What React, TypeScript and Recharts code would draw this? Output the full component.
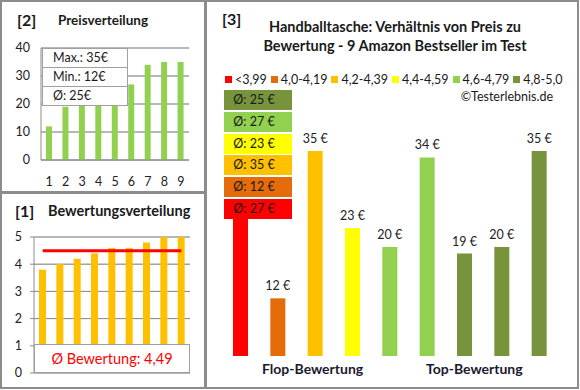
import React from "react";
import { Bar, BarChart, CartesianGrid, Cell, LabelList, ReferenceLine, XAxis, YAxis } from "recharts";

const FONT = "Lato, 'Open Sans', sans-serif";

// [2] Preisverteilung (sorted prices)
const rankLabels = ["1", "2", "3", "4", "5", "6", "7", "8", "9"];
const prices = [12, 19, 20, 20, 20, 27, 34, 35, 35];
const priceTicks = [0, 10, 20, 30, 40];
const priceMinor = Array.from({ length: 21 }, (_, i) => i * 2);
const priceStats = ["Max.: 35€", "Min.: 12€", "Ø: 25€"];

// [1] Bewertungsverteilung (sorted ratings)
const ratings = [3.8, 4.0, 4.2, 4.4, 4.6, 4.6, 4.8, 5.0, 5.0];
const ratingTicks = [0, 1, 2, 3, 4, 5];
const ratingMinor = Array.from({ length: 21 }, (_, i) => i * 0.25);
const ratingAvg = 4.49;

// [3] Preis vs. Bewertung
const productPrices = [27, 12, 35, 23, 20, 34, 19, 20, 35];
const productClass = [0, 1, 2, 3, 4, 4, 5, 5, 5];
const classLabels = ["<3,99", "4,0-4,19", "4,2-4,39", "4,4-4,59", "4,6-4,79", "4,8-5,0"];
const classColors = ["#FF0000", "#E46C0A", "#FFC000", "#FFFF00", "#92D050", "#77933C"];
const classAvg = [27, 12, 35, 23, 27, 25];

const priceData = rankLabels.map((n, i) => ({ n, price: prices[i] }));
const ratingData = rankLabels.map((n, i) => ({ n, rating: ratings[i] }));
const productData = productPrices.map((p, i) => ({ id: String(i + 1), price: p, cls: productClass[i] }));

const tickStyle = { fontSize: 12.5, fill: "#222", fontFamily: FONT };
const border = "2px solid #8c8c8c";

// price label above each bar; the first one sits under the Ø boxes in the original
const PriceLabel = (props: any) => {
  const { x, y, width, value, index } = props;
  if (index === 0) return null;
  return (
    <text x={x + width / 2} y={y - 8} textAnchor="middle" fontSize={12.5} fill="#222" fontFamily={FONT}>
      {`${value} €`}
    </text>
  );
};

export default function App() {
  return (
    <div
      style={{
        position: "absolute",
        left: 0,
        top: 0,
        width: 580,
        height: 390,
        background: "#fff",
        fontFamily: FONT,
        color: "#1a1a1a",
        overflow: "hidden",
      }}
    >
      {/* panel frames */}
      <div style={{ position: "absolute", left: 0, top: 0, width: 207, height: 194, border, boxSizing: "border-box" }} />
      <div style={{ position: "absolute", left: 0, top: 191, width: 207, height: 198, border, boxSizing: "border-box" }} />
      <div style={{ position: "absolute", left: 204, top: 0, width: 375, height: 389, border, boxSizing: "border-box" }} />

      {/* [2] Preisverteilung */}
      <div style={{ position: "absolute", left: 0, top: 0 }}>
        <BarChart width={205} height={192} data={priceData} margin={{ top: 48, right: 16, bottom: 0, left: 0 }}>
          <CartesianGrid vertical={false} horizontalValues={priceMinor} stroke="#c8c8c8" />
          <CartesianGrid vertical={false} horizontalValues={priceTicks} stroke="#8c8c8c" />
          <XAxis
            dataKey="n"
            interval={0}
            height={32}
            tickLine={false}
            tickSize={0}
            tickMargin={17}
            axisLine={{ stroke: "#8c8c8c" }}
            tick={tickStyle}
          />
          <YAxis
            domain={[0, 40]}
            ticks={priceTicks}
            width={41}
            tickLine={false}
            tickSize={0}
            tickMargin={11}
            axisLine={{ stroke: "#8c8c8c" }}
            tick={tickStyle}
          />
          <Bar dataKey="price" fill="#92D050" barSize={6} isAnimationActive={false} />
        </BarChart>
      </div>
      <div style={{ position: "absolute", left: 17, top: 10, fontSize: 16, fontWeight: 700 }}>[2]</div>
      <div style={{ position: "absolute", left: 58, top: 12, fontSize: 13.5, fontWeight: 700 }}>Preisverteilung</div>
      <div
        style={{
          position: "absolute",
          left: 42,
          top: 48,
          width: 84,
          background: "#fff",
          border: "1px solid #a0a0a0",
          fontSize: 12.5,
        }}
      >
        {priceStats.map((s, i) => (
          <div
            key={s}
            style={{
              height: 18,
              lineHeight: "18px",
              paddingLeft: 10,
              borderTop: i ? "1px solid #a0a0a0" : "none",
            }}
          >
            {s}
          </div>
        ))}
      </div>

      {/* [1] Bewertungsverteilung */}
      <div style={{ position: "absolute", left: 0, top: 192 }}>
        <BarChart width={205} height={196} data={ratingData} margin={{ top: 45, right: 15, bottom: 15, left: 0 }}>
          <CartesianGrid vertical={false} horizontalValues={ratingMinor} stroke="#c8c8c8" />
          <CartesianGrid vertical={false} horizontalValues={ratingTicks} stroke="#8c8c8c" />
          <XAxis dataKey="n" hide />
          <YAxis
            domain={[0, 5]}
            ticks={ratingTicks}
            width={34}
            tickSize={4}
            tickMargin={8}
            tickLine={{ stroke: "#8c8c8c" }}
            axisLine={{ stroke: "#8c8c8c" }}
            tick={tickStyle}
          />
          <Bar dataKey="rating" fill="#FFC000" barSize={7} isAnimationActive={false} />
          <ReferenceLine
            segment={[
              { x: "1", y: ratingAvg },
              { x: "9", y: ratingAvg },
            ]}
            stroke="#FF0000"
            strokeWidth={3}
          />
        </BarChart>
      </div>
      <div style={{ position: "absolute", left: 15, top: 201, fontSize: 16, fontWeight: 700 }}>[1]</div>
      <div style={{ position: "absolute", left: 48, top: 202, fontSize: 14.5, fontWeight: 700 }}>
        Bewertungsverteilung
      </div>
      <div
        style={{
          position: "absolute",
          left: 34,
          top: 344,
          width: 156,
          height: 29,
          boxSizing: "border-box",
          background: "#fff",
          border: "1px solid #a0a0a0",
          color: "#FF0000",
          fontSize: 14.5,
          lineHeight: "27px",
          textAlign: "center",
        }}
      >
        Ø Bewertung: {String(ratingAvg).replace(".", ",")}
      </div>

      {/* [3] Preis zu Bewertung */}
      <div style={{ position: "absolute", left: 205, top: 0 }}>
        <BarChart width={373} height={388} data={productData} margin={{ top: 119, right: 20, bottom: 32, left: 17 }}>
          <XAxis dataKey="id" hide />
          <YAxis domain={[3, 40]} hide allowDataOverflow />
          <Bar dataKey="price" barSize={15} isAnimationActive={false}>
            {productData.map((d) => (
              <Cell key={d.id} fill={classColors[d.cls]} />
            ))}
            <LabelList dataKey="price" content={PriceLabel} />
          </Bar>
        </BarChart>
      </div>
      <div style={{ position: "absolute", left: 222, top: 9, fontSize: 16, fontWeight: 700 }}>[3]</div>
      <div
        style={{
          position: "absolute",
          left: 250,
          top: 17,
          width: 290,
          textAlign: "center",
          fontSize: 14.5,
          fontWeight: 700,
          lineHeight: "19px",
        }}
      >
        Handballtasche: Verhältnis von Preis zu
        <br />
        Bewertung - 9 Amazon Bestseller im Test
      </div>
      <div
        style={{
          position: "absolute",
          left: 225,
          top: 72,
          display: "flex",
          alignItems: "center",
          fontSize: 12.5,
          whiteSpace: "nowrap",
        }}
      >
        {classLabels.map((l, i) => (
          <span key={l} style={{ display: "flex", alignItems: "center", marginRight: 4 }}>
            <span style={{ width: 7, height: 7, background: classColors[i], marginRight: 3 }} />
            {l}
          </span>
        ))}
      </div>
      <div style={{ position: "absolute", right: 27, top: 89, fontSize: 12.5 }}>©Testerlebnis.de</div>
      {classAvg
        .map((a, i) => ({ a, i }))
        .reverse()
        .map(({ a, i }, k) => (
          <div
            key={i}
            style={{
              position: "absolute",
              left: 224,
              top: 90 + k * 21.8,
              width: 68,
              height: 20,
              background: classColors[i],
              fontSize: 12.5,
              lineHeight: "20px",
              textAlign: "center",
              paddingRight: 8,
              boxSizing: "border-box",
            }}
          >
            Ø: {a} €
          </div>
        ))}
      <div style={{ position: "absolute", left: 262, top: 360, fontSize: 14, fontWeight: 700, color: "#1a1a2e" }}>
        Flop-Bewertung
      </div>
      <div style={{ position: "absolute", left: 426, top: 360, fontSize: 14, fontWeight: 700, color: "#1a1a2e" }}>
        Top-Bewertung
      </div>
    </div>
  );
}
